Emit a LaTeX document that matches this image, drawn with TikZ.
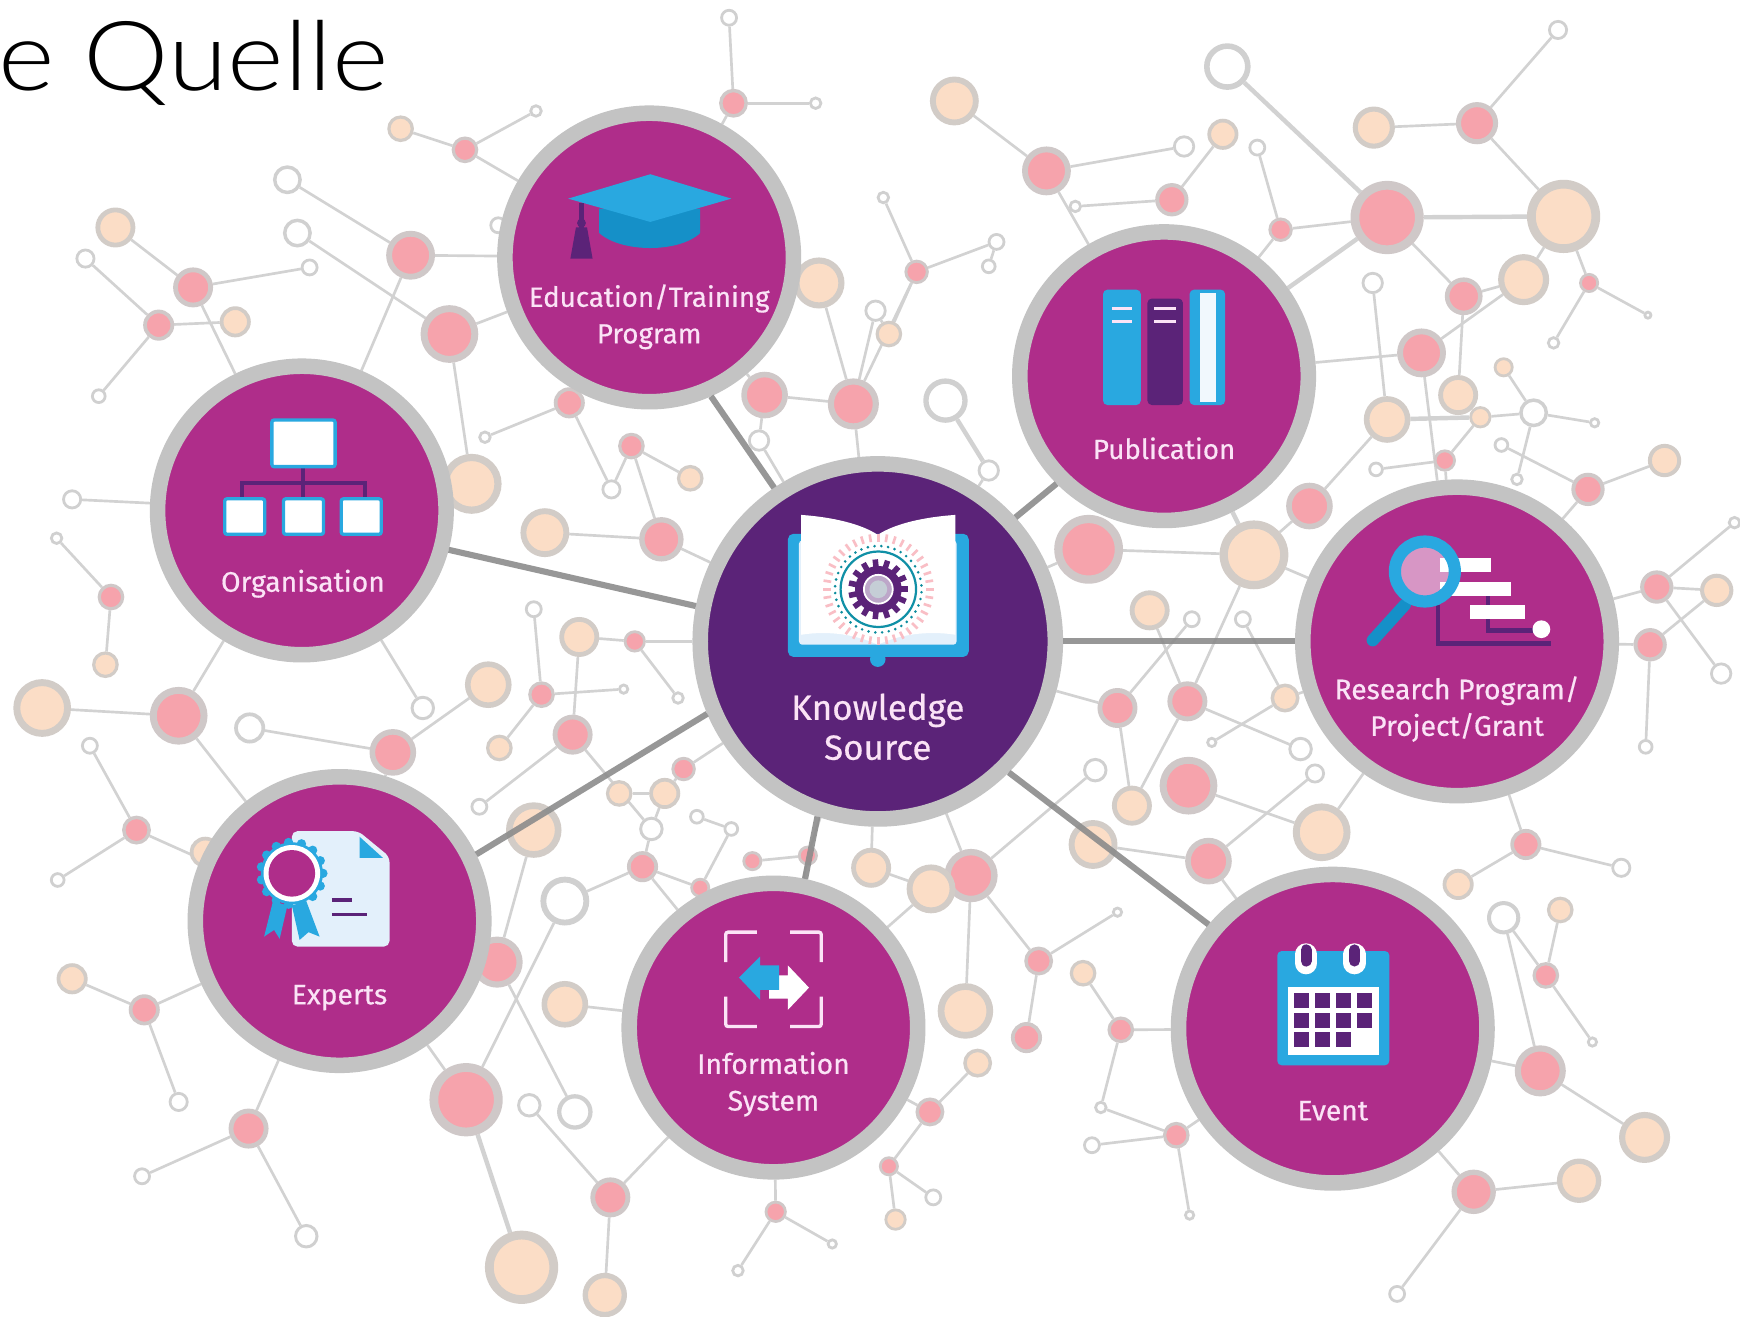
\documentclass[tikz,border=0pt]{standalone}
\usepackage{fontspec}
\setmainfont[FakeBold=0.5]{Fira Sans}
\newfontfamily\titlefont[FakeStretch=1.12]{Lato Light}
\usetikzlibrary{backgrounds,calc}
\definecolor{fillp}{HTML}{F6A3AC}
\definecolor{ringp}{HTML}{CFC8C8}
\definecolor{fillk}{HTML}{FBDDC6}
\definecolor{ringk}{HTML}{D2CCC7}
\definecolor{fillw}{HTML}{FFFFFF}
\definecolor{ringw}{HTML}{D0D0D0}
\definecolor{edgec}{HTML}{D2D2D2}
\definecolor{hubring}{HTML}{C3C3C3}
\definecolor{magenta1}{HTML}{AF2D8A}
\definecolor{purple1}{HTML}{5B2378}
\definecolor{blue1}{HTML}{29A8E0}
\definecolor{blue2}{HTML}{1590C8}
\definecolor{pale}{HTML}{E3F0FB}
\definecolor{labelc}{HTML}{FBE3F6}
\tikzset{
  netnode/.style={circle,inner sep=0pt},
  edgeline/.style={draw=edgec,line width=2.4pt},
  edgewide/.style={draw=edgec,line width=4pt},
  spoke/.style={draw=black!45,line width=5.5pt,opacity=0.9},
  hub/.style={circle,inner sep=0pt,fill=magenta1,draw=hubring,line width=14pt,minimum size=#1},
  hublabel/.style={text=labelc,align=center,font=\fontsize{25.5}{33}\selectfont,inner sep=0pt},
  purpleline/.style={draw=purple1,line width=3.5pt},
  whitebox/.style={fill=white,draw=blue1,line width=3pt,rounded corners=2pt},
}
\begin{document}
\begin{tikzpicture}[x=1pt,y=-1pt]
\useasboundingbox (0,0) rectangle (1568,1186);
\begin{pgfonlayer}{background}
\fill[white] (0,0) rectangle (1568,1186);
\end{pgfonlayer}
\node[anchor=base west,inner sep=0pt,font=\titlefont\fontsize{87}{100}\selectfont] (title) at (-2,82) {e Quelle};
% small network nodes
\foreach \n/\x/\y/\r/\t in {
a1/361/116/12/k,a2/419/135/12/p,a3/483/100/6/w,a4/259/162/13/w,a5/268/210/13/w,a6/279/241/8/w,a7/104/205/18/k,a8/174/259/18/p,a9/77/233/9/w,a10/143/293/14/p,
a11/212/290/14/k,a12/89/357/7/w,a13/370/230/22/p,a14/405/301/26/p,a15/425/436/27/k,a16/437/394/6/w,a17/513/363/14/p,a18/569/402/12/p,a19/551/441/9/w,a20/622/431/12/k,
a21/491/480/22/k,a22/596/486/20/p,a23/684/397/10/w,a24/689/356/21/p,a25/769/364/23/p,a26/738/255/23/k,a27/789/280/10/w,a28/801/301/12/k,a29/826/245/11/p,a30/796/178/6/w,
a31/898/218/8/w,a32/891/240/7/w,a33/661/93/13/p,a34/657/16/8/w,a35/735/93/6/w,a36/852/361/20/w,a37/891/424/10/w,a38/981/495/31/p,a39/860/91/22/k,a40/943/154/22/p,
a41/1106/60/21/w,a42/1067/132/10/w,a43/1102/121/14/k,a44/1133/133/8/w,a45/969/186/6/w,a46/1056/180/15/p,a47/1154/207/11/p,a48/1250/196/33/p,a49/1238/115/19/k,a50/1331/111/19/p,
a51/1404/27/9/w,a52/1409/195/33/k,a53/1373/252/23/k,a54/1319/267/17/p,a55/1237/255/10/w,a56/1281/318/22/p,a57/1432/255/9/p,a58/1485/284/4/w,a59/1400/309/6/w,a60/1355/331/9/k,
a61/1314/356/18/k,a62/1250/378/21/k,a63/1334/376/10/k,a64/1382/372/13/w,a65/1437/381/5/w,a66/1353/401/7/w,a67/1302/415/10/p,a68/1240/423/7/w,a69/1367/432/6/w,a70/1431/441/15/p,
a71/1500/415/15/k,a72/1180/456/21/p,a73/1130/500/31/k,a74/1036/550/18/k,a75/1074/558/8/w,a76/1120/558/8/w,a77/1493/529/15/p,a78/1547/532/15/k,a79/1563/471/6/w,a80/1487/581/15/p,
a81/1551/607/10/w,a82/1483/673/7/w,a83/1007/638/18/p,a84/1070/632/18/p,a85/1158/629/13/k,a87/1092/669/5/w,a88/1172/675/11/w,a89/1185/697/9/w,a90/987/694/11/w,
a91/1020/726/18/k,a92/1071/708/26/p,a93/985/761/22/k,a94/1089/776/21/p,a95/1191/750/26/k,a96/1375/761/14/p,a97/1461/782/9/w,a98/1314/797/14/k,a99/1355/827/15/w,a100/1406/820/12/k,
a101/1393/879/12/p,a102/1435/939/5/w,a103/1388/965/23/p,a104/1482/1025/23/k,a105/1328/1074/20/p,a106/1423/1064/20/k,a107/1259/1166/8/w,a108/1060/1023/12/p,a109/984/1032/8/w,a110/1072/1095/5/w,
a111/992/998/6/w,a112/1010/928/12/p,a113/976/877/12/k,a114/1007/822/5/w,a115/936/866/13/p,a116/925/935/14/p,a117/870/911/25/k,a118/881/958/13/k,a119/838/1002/13/p,a120/875/789/24/p,
a121/839/801/22/k,a122/785/782/18/k,a123/728/771/9/p,a124/678/776/9/p,a125/631/800/9/p,a126/579/781/14/p,a127/587/747/11/w,a128/659/747/7/w,a129/628/736/7/w,a130/599/715/14/k,
a131/558/715/12/k,a132/616/693/11/p,a133/516/662/18/p,a134/488/626/12/p,a135/572/578/10/p,a136/522/574/18/k,a137/481/549/8/w,a138/562/621/5/w,a139/611/629/6/w,a140/450/674/12/k,
a141/440/617/21/k,a142/381/638/11/w,a143/354/678/21/p,a144/225/656/14/w,a145/161/645/26/p,a146/38/638/26/k,a147/81/672/8/w,a148/95/599/12/k,a149/100/538/12/p,a150/51/485/6/w,
a151/65/450/9/w,a152/123/748/13/p,a153/52/793/7/w,a154/432/727/8/w,a155/481/748/25/k,a156/509/812/22/w,a157/448/867/23/p,a158/509/905/21/k,a160/420/991/33/p,a161/477/996/11/w,
a162/518/1002/16/w,a163/550/1079/18/p,a164/470/1142/33/k,a165/545/1167/20/k,a166/276/1114/11/w,a167/224/1017/18/p,a168/128/1060/8/w,a169/161/993/9/w,a170/130/910/14/p,a171/65/882/14/k,
a172/699/1092/10/p,a173/665/1145/6/w,a174/750/1121/5/w,a175/807/1099/10/k,a176/801/1051/9/p,a177/841/1079/8/w,a178/185/768/14/k,a179/449/203/8/w}{
  \pgfmathsetmacro\lw{max(2.5,0.24*\r)}
  \pgfmathsetmacro\dm{2*\r-\lw}
  \node[netnode,fill=fill\t,draw=ring\t,line width=\lw pt,minimum size=\dm pt] (\n) at (\x,\y) {};
}
% hubs
\node[hub=320pt,fill=purple1] (K) at (791,578) {};
\node[hub=260pt] (Edu) at (585,232) {};
\node[hub=260pt] (Org) at (272,460) {};
\node[hub=260pt] (Pub) at (1049,339) {};
\node[hub=278pt] (Res) at (1313,578) {};
\node[hub=278pt] (Eve) at (1201,927) {};
\node[hub=260pt] (Inf) at (697,926) {};
\node[hub=260pt] (Exp) at (306,830) {};
% connectors behind the nodes
\begin{pgfonlayer}{background}
\foreach \a/\b in {
a1/a2,a2/a3,a2/Edu,a4/a13,a5/a14,a13/Edu,a6/a8,a7/a8,a9/a10,a8/Org,a10/a12,a10/a11,a13/Org,a14/Edu,a14/a15,a16/a17,a17/Edu,a17/a19,a18/a19,a18/a20,a21/a22,a22/a18,a22/K,
a24/Edu,a23/a24,a23/K,a24/a25,a25/a26,a26/Edu,a25/a27,a27/a28,a29/a28,a29/a30,a29/a31,a25/a29,a25/K,a33/Edu,a33/a34,a33/a35,a37/K,a32/a31,
a39/a40,a40/a42,a40/Pub,a45/a46,a46/a43,a44/a47,a47/a48,a47/Pub,a49/a50,a50/a52,a51/a50,a53/a54,a53/a52,a53/a56,a54/a48,a54/a61,a55/a62,a56/Pub,a56/Res,a60/a64,a63/a64,a64/a65,a64/a69,a57/a58,a57/a52,a59/a57,
a66/a70,a70/a71,a67/a68,a67/a63,a67/Res,a70/Res,a72/a62,a72/a73,a73/a38,a73/a84,a73/Res,
a74/a84,a75/a83,a76/a85,a85/a87,a85/Res,a83/K,a83/a91,a84/a91,a84/a88,a89/a94,a90/a120,a92/a95,a93/a94,a94/Eve,a95/Res,a38/K,
a77/a78,a77/Res,a79/a77,a77/a81,a80/a78,a80/Res,a80/a82,a96/a97,a96/Res,a96/a98,a99/a101,a100/a101,a101/a102,a99/a103,a103/Eve,a103/a104,a105/Eve,a105/a106,a105/a107,
a108/Eve,a108/a109,a108/a110,a108/a111,a112/Eve,a112/a113,a112/a111,a114/a115,a115/a116,a115/a120,a117/a120,a118/a119,a119/Inf,a119/a176,a176/a177,a176/a175,a172/a173,a172/a174,a172/Inf,
a120/a121,a121/a122,a121/Inf,a120/K,a122/K,a123/K,a123/Inf,a124/a123,a125/a126,a126/a127,a126/a156,a126/Inf,a130/a131,a130/a127,a132/a130,a132/K,a133/a127,a129/a128,a128/a125,
a134/a137,a135/a136,a133/a136,a134/a140,a134/a138,a135/a139,a135/K,a133/a154,a141/a143,a142/Org,
a143/a144,a143/Exp,a145/Exp,a145/Org,a145/a146,a147/a152,a152/Exp,a152/a153,a148/a149,a149/a150,a151/Org,a155/a157,a156/a160,a157/a162,a158/Inf,a160/Exp,a161/a163,a163/a165,a163/Inf,
a167/a168,a167/a166,a167/Exp,a170/a171,a170/a169,a170/Exp,a178/Exp,a179/Edu}{
  \draw[edgeline] (\a) -- (\b);
}
\foreach \a/\b in {a48/a41,a48/a52,a48/Pub,a160/a164,a36/a37,a15/Org,a73/Pub,a62/a63}{
  \draw[edgewide] (\a) -- (\b);
}
\end{pgfonlayer}
% spokes from the central hub, over the small nodes
\draw[spoke] (K.124) -- (Edu.-66);
\draw[spoke] (K.169) -- (Org.-15);
\draw[spoke] (K.42) -- (Pub.225);
\draw[spoke] (K.0) -- (Res.180);
\draw[spoke] (K.-45) -- (Eve.140);
\draw[spoke] (K.-109) -- (Inf.78);
\draw[spoke] (K.203) -- (Exp.26);
% Knowledge Source icon
\fill[blue1,rounded corners=5pt] (710,481) rectangle (873,592);
\fill[blue1] (791,594) circle (7);
\fill[pale,rounded corners=3pt] (720,487) rectangle (862,581);
\fill[white] (722,464) .. controls (750,466) and (776,472) .. (791,482) .. controls (806,472) and (832,466) .. (861,464) -- (861,572) .. controls (835,568) and (810,572) .. (791,581) .. controls (772,572) and (747,568) .. (722,572) -- cycle;
\foreach \a in {0,9,...,351}{
  \draw[fillp!70,line width=2.4pt] (791.5,531)++(\a:43) -- ++(\a:7);
}
\foreach \a in {0,9,...,351}{
  \fill[teal!70!blue1] (791.5,531)++(\a+4:39) circle (1.3);
}
\draw[teal!60!blue1,line width=2pt] (791.5,531) circle (34);
\foreach \a in {0,24,...,336}{
  \draw[purple1,line width=5pt] (791.5,531)++(\a:17) -- ++(\a:10);
}
\fill[purple1] (791.5,531) circle (21);
\draw[white,line width=1.6pt,fill=purple1!40!white] (791.5,531) circle (13);
\fill[pale!70!gray] (791.5,531) circle (8);
\node[hublabel,font=\fontsize{31.5}{36}\selectfont] (Kt) at (791,655) {Knowledge\\Source};
% Education icon
\fill[blue2] (540,188) -- (540,210) .. controls (560,228) and (612,228) .. (631,210) -- (631,188) -- cycle;
\fill[blue1] (512,179) -- (586,157) -- (659,179) -- (586,200) -- cycle;
\draw[purple1,line width=4pt] (524,183) -- (524,206);
\fill[purple1] (524,201) circle (4);
\fill[purple1] (519,205) -- (529,205) -- (534,233) -- (514,233) -- cycle;
\node[hublabel,font=\fontsize{25}{33}\selectfont] (Edut) at (585,285.5) {Education/Training\\Program};
% Organisation icon
\draw[purpleline] (273,422) -- (273,448) (218,448) -- (218,435.5) -- (329,435.5) -- (329,448);
\node[whitebox,minimum width=57pt,minimum height=42pt,inner sep=0pt] (o0) at (273.5,399.5) {};
\node[whitebox,minimum width=36pt,minimum height=32pt,inner sep=0pt] (o1) at (220.5,465.5) {};
\node[whitebox,minimum width=36pt,minimum height=32pt,inner sep=0pt] (o2) at (273.5,465.5) {};
\node[whitebox,minimum width=36pt,minimum height=32pt,inner sep=0pt] (o3) at (325.5,465.5) {};
\node[hublabel] (Orgt) at (273,526) {Organisation};
% Publication icon
\fill[blue1,rounded corners=4pt] (994,261) rectangle (1028,365);
\fill[purple1,rounded corners=4pt] (1034,269) rectangle (1066,365);
\fill[blue1,rounded corners=4pt] (1072,261) rectangle (1104,365);
\fill[pale!50!white] (1081,264) rectangle (1096,362);
\draw[labelc,line width=2.4pt] (1002,278) -- (1020,278) (1002,290) -- (1020,290) (1040,278) -- (1060,278) (1040,290) -- (1060,290);
\node[hublabel,font=\fontsize{25}{33}\selectfont] (Pubt) at (1049,404) {Publication};
% Research icon
\draw[purple1,line width=4pt] (1341,537) -- (1341,568) -- (1385,568) (1296,545) -- (1296,580) -- (1398,580);
\fill[white] (1298,503) rectangle (1344,515);
\fill[white] (1298,524.5) rectangle (1362,537);
\fill[white] (1325,545) rectangle (1374,558);
\fill[white] (1389,567) circle (8);
\draw[blue2,line width=11pt,line cap=round] (1266,545) -- (1237,577);
\fill[magenta1!50!white] (1284,515) circle (24);
\fill[white] (1298,503) rectangle (1306,515);
\fill[white] (1298,524.5) rectangle (1304,531);
\draw[blue1,line width=11pt] (1284,515) circle (27);
\node[hublabel] (Rest) at (1313,639) {Research Program/\\Project/Grant};
% Experts icon
\fill[pale,rounded corners=5pt] (263,749) -- (323,749) -- (351,772) -- (351,853) -- (263,853) -- cycle;
\fill[blue1] (324,754) -- (345,773) -- (324,773) -- cycle;
\draw[purple1,line width=3pt] (299,811) -- (317,811) (299,824) -- (331,824);
\fill[blue1] (246,812) -- (259,816) -- (252,846) -- (247,838) -- (238,844) -- cycle;
\fill[blue1] (263,816) -- (276,812) -- (288,844) -- (278,840) -- (270,847) -- cycle;
\foreach \a in {0,24,...,336}{
  \fill[blue1] (263,787)++(\a:28) circle (4.2);
}
\fill[blue1] (263,787) circle (28);
\fill[white] (263,787) circle (25.5);
\fill[magenta1] (263,787) circle (21);
\node[hublabel] (Expt) at (306,899) {Experts};
% Information System icon
\draw[labelc,line width=3pt,rounded corners=2pt] (654,867) -- (654,840) -- (682,840) (712,840) -- (740,840) -- (740,867) (740,898) -- (740,925) -- (712,925) (682,925) -- (654,925) -- (654,898);
\fill[white] (693,879) -- (710,879) -- (710,870) -- (729,890) -- (710,910) -- (710,900) -- (693,900) -- cycle;
\fill[blue1] (702,870) -- (685,870) -- (685,862) -- (666,881) -- (685,901) -- (685,892) -- (702,892) -- cycle;
\node[hublabel] (Inft) at (697,977) {Information\\System};
% Event icon
\fill[blue1,rounded corners=4pt] (1151,857) rectangle (1252,960);
\fill[white] (1161,889) rectangle (1243,951);
\foreach \xa in {1166.4,1185,1204,1223}{
  \fill[purple1] (\xa,894.5) rectangle ++(13.5,14);
  \fill[purple1] (\xa,912.5) rectangle ++(13.5,13.5);
}
\foreach \xa in {1166.4,1185,1204}{
  \fill[purple1] (\xa,930) rectangle ++(13.5,13.5);
}
\draw[white,line width=20pt,line cap=round] (1177,860) -- (1177,868) (1220.6,860) -- (1220.6,868);
\draw[purple1,line width=10pt,line cap=round] (1177,856) -- (1177,866) (1220.6,856) -- (1220.6,866);
\node[hublabel] (Evet) at (1201,1001) {Event};
\end{tikzpicture}
\end{document}
